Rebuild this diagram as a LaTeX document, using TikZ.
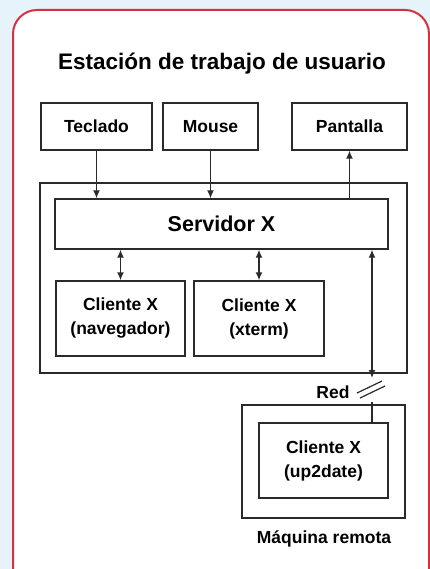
\documentclass[tikz,border=0pt]{standalone}
\usepackage{fontspec}
\setmainfont{Liberation Sans}
\usetikzlibrary{arrows.meta}
\definecolor{bgblue}{HTML}{E6F3FB}
\definecolor{frame}{HTML}{D8313E}
\definecolor{ink}{HTML}{2A2A2A}
\begin{document}
\begin{tikzpicture}[x=1pt,y=-1pt,
  box/.style={draw=ink,line width=1.4pt,fill=white,inner sep=0pt,align=center,font=\fontsize{17.5}{24}\selectfont\bfseries},
  conn/.style={draw=ink,line width=1.4pt},
  tip/.style={-{Latex[length=8pt,width=7pt]}},
  dtip/.style={{Latex[length=8pt,width=7pt]}-{Latex[length=8pt,width=7pt]}},
  lbl/.style={font=\fontsize{17.5}{20}\selectfont\bfseries}]
\useasboundingbox (0,0) rectangle (430,569);
\fill[bgblue] (0,0) rectangle (430,569);
\begin{scope}
\clip (0,0) rectangle (430,569);
\draw[frame,line width=2pt,fill=white,rounded corners=24pt] (13,10) rectangle (429,620);
\end{scope}
\node[font=\fontsize{22.5}{26}\selectfont\bfseries,anchor=base] (title) at (222,70) {Estación de trabajo de usuario};
\node[box,minimum width=111pt,minimum height=47pt] (tec) at (96.5,126.5) {Teclado};
\node[box,minimum width=95pt,minimum height=47pt] (mou) at (210.5,126.5) {Mouse};
\node[box,minimum width=115pt,minimum height=47pt] (pan) at (349.5,126.5) {Pantalla};
\node[box,minimum width=367pt,minimum height=190pt] (ws) at (223.5,278) {};
\node[box,minimum width=333pt,minimum height=50pt,font=\fontsize{21.5}{25}\selectfont\bfseries] (srv) at (221.5,224) {Servidor X};
\node[box,minimum width=129pt,minimum height=75pt] (nav) at (120.5,318.5) {Cliente X\\(navegador)};
\node[box,minimum width=130pt,minimum height=75pt] (xt) at (259,318.5) {Cliente X\\(xterm)};
\node[box,minimum width=163pt,minimum height=113pt] (rem) at (323.5,461.5) {};
\node[box,minimum width=129pt,minimum height=75pt] (up) at (323.5,460.5) {Cliente X\\(up2date)};
\node[lbl] (maq) at (324,539) {Máquina remota};
\node[lbl] (red) at (333,392) {Red};
\coordinate (netA) at (372,378);
\coordinate (netB) at (372,402);
\draw[conn,tip] (tec.south) -- (tec.south |- srv.north);
\draw[conn,tip] (mou.south) -- (mou.south |- srv.north);
\draw[conn,tip] (pan.south |- srv.north) -- (pan.south);
\draw[conn,dtip] (nav.north) -- (nav.north |- srv.south);
\draw[conn,dtip] (xt.north) -- (xt.north |- srv.south);
\draw[conn,dtip] (netA |- srv.south) -- (netA);
\draw[conn] (netB) -- (netB |- up.north);
\draw[ink,line width=1.2pt] (357,393) -- (382,381);
\draw[ink,line width=1.2pt] (360,398) -- (385,386);
\end{tikzpicture}
\end{document}
